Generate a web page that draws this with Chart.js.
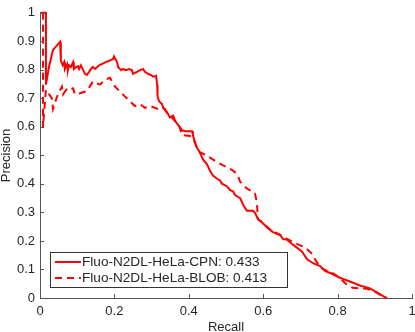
<!DOCTYPE html>
<html>
<head>
<meta charset="utf-8">
<script src="https://cdn.jsdelivr.net/npm/chart.js@4/dist/chart.umd.min.js"></script>
<style>
  html, body { margin: 0; padding: 0; background: #fff; }
  #wrap { width: 415px; height: 332px; }
</style>
</head>
<body>
<div id="wrap"><canvas id="myChart" width="415" height="332"></canvas></div>
<script>
// series labels
const seriesNames = ['Fluo-N2DL-HeLa-CPN: 0.433', 'Fluo-N2DL-HeLa-BLOB: 0.413'];

// Fluo-N2DL-HeLa-CPN (solid)
const cpnRecall = [0.003, 0.016, 0.016, 0.024, 0.035, 0.054, 0.056, 0.061, 0.065, 0.067, 0.073, 0.075, 0.078, 0.083,
  0.089, 0.091, 0.097, 0.102, 0.105, 0.110, 0.116, 0.118, 0.121, 0.126, 0.132, 0.137, 0.142, 0.148, 0.159, 0.177,
  0.196, 0.199, 0.207, 0.210, 0.218, 0.223, 0.231, 0.239, 0.247, 0.250, 0.261, 0.269, 0.277, 0.282, 0.290, 0.298,
  0.304, 0.312, 0.315, 0.315, 0.317, 0.320, 0.328, 0.331, 0.336, 0.341, 0.344, 0.349, 0.358, 0.363, 0.368, 0.376,
  0.382, 0.390, 0.409, 0.411, 0.417, 0.422, 0.430, 0.438, 0.449, 0.457, 0.465, 0.476, 0.484, 0.489, 0.503, 0.511,
  0.519, 0.524, 0.538, 0.546, 0.556, 0.573, 0.578, 0.586, 0.597, 0.610, 0.626, 0.645, 0.653, 0.664, 0.680, 0.704,
  0.718, 0.734, 0.753, 0.766, 0.785, 0.806, 0.833, 0.860, 0.887, 0.909, 0.927, 0.933];
const cpnPrecision = [1.0, 1.0, 0.748, 0.810, 0.870, 0.898, 0.833, 0.816, 0.827, 0.803, 0.820, 0.799, 0.816, 0.810,
  0.827, 0.803, 0.810, 0.813, 0.803, 0.816, 0.799, 0.799, 0.786, 0.782, 0.793, 0.803, 0.810, 0.803, 0.816, 0.827,
  0.837, 0.847, 0.827, 0.810, 0.799, 0.803, 0.799, 0.803, 0.799, 0.786, 0.793, 0.799, 0.803, 0.793, 0.786, 0.782,
  0.776, 0.779, 0.748, 0.724, 0.707, 0.690, 0.680, 0.667, 0.663, 0.650, 0.646, 0.633, 0.639, 0.622, 0.612, 0.599,
  0.588, 0.585, 0.585, 0.571, 0.544, 0.527, 0.510, 0.486, 0.469, 0.446, 0.429, 0.418, 0.412, 0.401, 0.391, 0.378,
  0.374, 0.361, 0.350, 0.327, 0.306, 0.306, 0.299, 0.276, 0.265, 0.248, 0.231, 0.221, 0.207, 0.204, 0.187, 0.163,
  0.136, 0.122, 0.112, 0.095, 0.085, 0.071, 0.058, 0.044, 0.034, 0.017, 0.003, 0.0];

// Fluo-N2DL-HeLa-BLOB (dashed)
const blobRecall = [0.008, 0.008, 0.016, 0.032, 0.035, 0.040, 0.048, 0.059, 0.062, 0.073, 0.081, 0.089, 0.094, 0.108,
  0.121, 0.129, 0.142, 0.161, 0.175, 0.188, 0.202, 0.215, 0.228, 0.242, 0.255, 0.269, 0.282, 0.296, 0.317, 0.331,
  0.345, 0.360, 0.375, 0.382, 0.403, 0.411, 0.417, 0.422, 0.430, 0.444, 0.476, 0.516, 0.530, 0.538, 0.556, 0.578,
  0.583, 0.586, 0.597, 0.610, 0.626, 0.645, 0.664, 0.690, 0.712, 0.731, 0.742, 0.755, 0.772, 0.790, 0.806, 0.822,
  0.840, 0.880, 0.906, 0.922, 0.930];
const blobPrecision = [1.0, 0.600, 0.730, 0.700, 0.663, 0.684, 0.714, 0.741, 0.714, 0.735, 0.731, 0.735, 0.714, 0.718,
  0.724, 0.731, 0.759, 0.748, 0.765, 0.772, 0.741, 0.724, 0.707, 0.690, 0.673, 0.680, 0.667, 0.673, 0.663, 0.667,
  0.645, 0.625, 0.600, 0.571, 0.568, 0.560, 0.544, 0.527, 0.510, 0.503, 0.476, 0.449, 0.435, 0.408, 0.384, 0.367,
  0.333, 0.276, 0.267, 0.250, 0.233, 0.222, 0.207, 0.190, 0.178, 0.155, 0.130, 0.105, 0.095, 0.085, 0.070, 0.050,
  0.036, 0.032, 0.018, 0.004, 0.0];

const xTicks = [0, 0.2, 0.4, 0.6, 0.8, 1];
const yTicks = [0, 0.1, 0.2, 0.3, 0.4, 0.5, 0.6, 0.7, 0.8, 0.9, 1];

function toPoints(xs, ys) {
  return xs.map((x, i) => ({x: x, y: ys[i]}));
}
// "0", "0.2", ..., "1" like matlab
function tickText(v) {
  return String(+(+v).toFixed(1));
}

const axisColor = '#555555';
const textColor = '#262626';
const fontFamily = '"Liberation Sans", Arial, Helvetica, sans-serif';

// MATLAB style inward ticks + legend box inside the axes
const matlabBits = {
  id: 'matlabBits',
  afterDraw(chart) {
    const c = chart.ctx;
    const xs = chart.scales.x, ys = chart.scales.y;
    const area = chart.chartArea;
    c.save();
    c.strokeStyle = axisColor;
    c.lineWidth = 1;
    c.beginPath();
    xTicks.forEach(v => {
      const px = Math.round(xs.getPixelForValue(v)) + 0.5;
      c.moveTo(px, area.bottom);
      c.lineTo(px, area.bottom - 4);
    });
    yTicks.forEach(v => {
      const py = Math.round(ys.getPixelForValue(v)) + 0.5;
      c.moveTo(area.left, py);
      c.lineTo(area.left + 4, py);
    });
    c.stroke();

    // legend
    const lx = 50.5, ly = 252.5, lw = 237, lh = 35;
    c.fillStyle = '#fff';
    c.fillRect(lx, ly, lw, lh);
    c.strokeStyle = '#333';
    c.strokeRect(lx, ly, lw, lh);
    c.font = '13.6px ' + fontFamily;
    c.textBaseline = 'middle';
    c.fillStyle = textColor;
    const rows = [262, 278];
    chart.data.datasets.forEach((ds, i) => {
      c.strokeStyle = ds.borderColor;
      c.lineWidth = 2;
      c.setLineDash(ds.borderDash || []);
      c.beginPath();
      c.moveTo(55, rows[i]);
      c.lineTo(81, rows[i]);
      c.stroke();
      c.setLineDash([]);
      c.fillText(ds.label, 82, rows[i] + 0.5);
    });
    c.restore();
  }
};

const ctx = document.getElementById('myChart').getContext('2d');
const myChart = new Chart(ctx, {
  type: 'scatter',
  data: {
    datasets: [{
      label: seriesNames[0],
      data: toPoints(cpnRecall, cpnPrecision),
      showLine: true,
      borderColor: '#ff0000',
      borderWidth: 2,
      pointRadius: 0,
      tension: 0,
      clip: false
    }, {
      label: seriesNames[1],
      data: toPoints(blobRecall, blobPrecision),
      showLine: true,
      borderColor: '#ff0000',
      borderWidth: 2,
      borderDash: [7, 5],
      pointRadius: 0,
      tension: 0,
      clip: false
    }]
  },
  options: {
    responsive: false,
    animation: false,
    layout: { padding: { top: 4, right: 3, left: 0, bottom: 0 } },
    plugins: {
      legend: { display: false },
      tooltip: { enabled: false }
    },
    scales: {
      x: {
        type: 'linear',
        min: 0, max: 1,
        afterBuildTicks: s => { s.ticks = xTicks.map(v => ({value: v})); },
        afterFit: s => { s.height = 34; s.paddingLeft = 0; s.paddingRight = 0; },
        grid: { display: true, drawOnChartArea: false, drawTicks: false },
        border: { display: true, color: axisColor, width: 1 },
        ticks: { color: textColor, font: { family: fontFamily, size: 13 }, padding: 6, maxRotation: 0,
                 callback: tickText },
        title: { display: true, text: 'Recall', color: textColor,
                 font: { family: fontFamily, size: 13, lineHeight: 1 }, padding: { top: 0, bottom: -2 } }
      },
      y: {
        type: 'linear',
        min: 0, max: 1,
        afterBuildTicks: s => { s.ticks = yTicks.map(v => ({value: v})); },
        afterFit: s => { s.width = 40; },
        grid: { display: true, drawOnChartArea: false, drawTicks: false },
        border: { display: true, color: axisColor, width: 1 },
        ticks: { color: textColor, font: { family: fontFamily, size: 13 }, padding: 5, callback: tickText },
        title: { display: true, text: 'Precision', color: textColor,
                 font: { family: fontFamily, size: 13, lineHeight: 1 }, padding: 0 }
      }
    }
  },
  plugins: [matlabBits]
});
</script>
</body>
</html>
